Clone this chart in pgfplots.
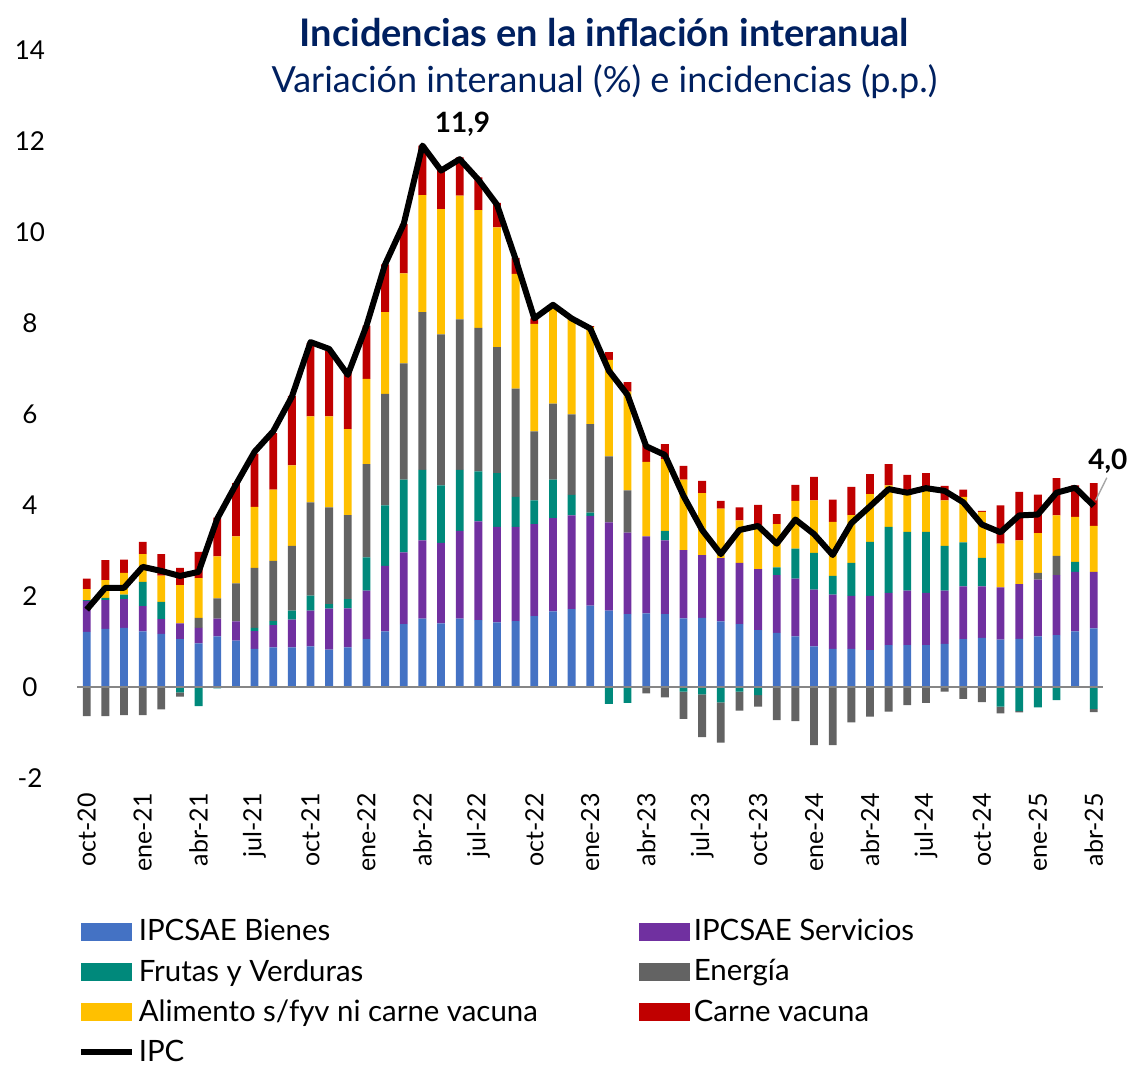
\documentclass[border=0pt]{standalone}
\usepackage{fontspec}
\setmainfont{Lato}
\usepackage{pgfplots}
\usepackage{pgfplotstable}
\pgfplotsset{compat=1.18}

\definecolor{cBien}{RGB}{68,114,196}
\definecolor{cServ}{RGB}{112,48,160}
\definecolor{cFyV}{RGB}{0,137,123}
\definecolor{cEne}{RGB}{99,99,99}
\definecolor{cAli}{RGB}{255,192,0}
\definecolor{cCar}{RGB}{192,0,0}
\definecolor{cTit}{RGB}{0,32,96}
\definecolor{cZero}{RGB}{134,134,134}

\pgfplotstableread{
i bien serv fyv ene ali car fyvn enen ipc
0 1.21 0.68 0.02 0 0.24 0.23 0 -0.64 1.70
1 1.28 0.63 0.05 0 0.39 0.44 0 -0.64 2.18
2 1.30 0.63 0.10 0 0.48 0.29 0 -0.62 2.18
3 1.22 0.56 0.53 0 0.61 0.27 0 -0.62 2.64
4 1.17 0.32 0.38 0 0.58 0.47 0 -0.49 2.55
5 1.05 0.35 0 0 0.84 0.38 -0.12 -0.09 2.44
6 0.96 0.34 0 0.22 0.87 0.58 -0.42 0 2.53
7 1.11 0.39 0 0.45 0.92 0.85 -0.03 0 3.70
8 1.02 0.42 0 0.84 1.03 1.17 0 0 4.45
9 0.84 0.39 0.07 1.32 1.34 1.17 0 0 5.17
10 0.87 0.49 0.09 1.32 1.57 1.24 0 0 5.62
11 0.87 0.61 0.20 1.42 1.77 1.53 0 0 6.38
12 0.89 0.79 0.33 2.05 1.89 1.61 0 0 7.58
13 0.82 0.90 0.10 2.13 2.00 1.43 0 0 7.43
14 0.87 0.86 0.20 1.85 1.89 1.24 0 0 6.86
15 1.05 1.07 0.73 2.05 1.87 1.17 0 0 7.94
16 1.22 1.44 1.33 2.45 1.80 1.05 0 0 9.29
17 1.38 1.58 1.60 2.55 1.98 1.09 0 0 10.18
18 1.50 1.72 1.55 3.47 2.57 1.09 0 0 11.90
19 1.40 1.77 1.26 3.32 2.75 0.92 0 0 11.35
20 1.50 1.93 1.34 3.31 2.72 0.84 0 0 11.60
21 1.47 2.17 1.10 3.15 2.59 0.72 0 0 11.15
22 1.42 2.10 1.18 2.77 2.63 0.54 0 0 10.60
23 1.45 2.07 0.66 2.38 2.52 0.35 0 0 9.40
24 1.56 2.02 0.52 1.52 2.36 0.12 0 0 8.10
25 1.66 2.05 0.85 1.67 2.15 0 0 0 8.40
26 1.71 2.06 0.45 1.77 2.11 0 0 0 8.10
27 1.79 1.97 0.07 1.95 2.13 0.02 0 0 7.88
28 1.68 1.94 0 1.45 2.12 0.17 -0.37 0 6.95
29 1.60 1.79 0 0.93 2.17 0.21 -0.35 0 6.42
30 1.62 1.69 0 0 1.64 0.37 0 -0.14 5.29
31 1.60 1.62 0.21 0 1.58 0.33 0 -0.23 5.10
32 1.51 1.50 0 0 1.55 0.30 -0.10 -0.60 4.20
33 1.52 1.38 0 0 1.36 0.27 -0.16 -0.94 3.45
34 1.44 1.39 0 0 1.09 0.17 -0.34 -0.88 2.92
35 1.38 1.35 0 0 0.93 0.29 -0.10 -0.42 3.45
36 1.25 1.34 0 0 0.97 0.44 -0.18 -0.25 3.54
37 1.19 1.27 0.17 0 0.95 0.22 0 -0.73 3.15
38 1.11 1.27 0.66 0 1.05 0.35 0 -0.75 3.68
39 0.89 1.25 0.81 0 1.15 0.52 0 -1.28 3.36
40 0.84 1.19 0.41 0 1.19 0.49 0 -1.28 2.90
41 0.84 1.16 0.73 0 1.05 0.62 0 -0.78 3.60
42 0.81 1.19 1.19 0 1.05 0.44 0 -0.65 3.97
43 0.92 1.15 1.45 0 0.91 0.47 0 -0.54 4.35
44 0.92 1.20 1.29 0 0.82 0.43 0 -0.40 4.27
45 0.92 1.15 1.34 0 0.93 0.36 0 -0.35 4.37
46 0.95 1.17 0.98 0 1.00 0.32 0 -0.10 4.31
47 1.05 1.16 0.97 0 1.00 0.16 0 -0.26 4.06
48 1.08 1.13 0.63 0 1.01 0.02 0 -0.33 3.57
49 1.04 1.15 0 0 0.96 0.84 -0.43 -0.15 3.40
50 1.06 1.20 0 0 0.96 1.07 -0.53 -0.03 3.77
51 1.11 1.25 0 0.15 0.87 0.85 -0.45 0 3.79
52 1.14 1.32 0 0.42 0.89 0.82 -0.29 0 4.27
53 1.22 1.31 0.22 0 0.99 0.69 0 0 4.38
54 1.29 1.24 0 0 1.01 0.94 -0.48 -0.07 3.98
}\datos

\pgfplotsset{
  base/.style={
    scale only axis, width=512.85pt, height=364pt,
    at={(0pt,0pt)}, anchor=south west,
    xmin=-0.5, xmax=54.5, ymin=-2, ymax=14,
    clip=false,
  },
  barleg/.style={legend image code/.code={\fill[##1,draw=none] (0pt,-4.5pt) rectangle (25.5pt,4.5pt);}},
  ipcleg/.style={legend image code/.code={\draw[##1] (0pt,0pt) -- (25.5pt,0pt);}},
}

\begin{document}
\begin{tikzpicture}
% negative contributions
\begin{axis}[base, hide axis, ybar stacked, bar width=0.42]
\addplot[fill=cFyV, draw=none] table[x=i, y=fyvn]{\datos};
\addplot[fill=cEne, draw=none] table[x=i, y=enen]{\datos};
\end{axis}
% positive contributions, ticks and legend
\begin{axis}[base, ybar stacked, bar width=0.42,
  axis line style={draw=none}, major tick length=0pt,
  ytick={-2,0,2,4,6,8,10,12,14},
  yticklabels={-2,0,2,4,6,8,10,12,14},
  yticklabel style={anchor=center, xshift=-23.7pt, font=\fontsize{13}{15}\selectfont},
  xtick={0,3,...,54},
  xticklabels={oct-20,ene-21,abr-21,jul-21,oct-21,ene-22,abr-22,jul-22,oct-22,ene-23,abr-23,jul-23,oct-23,ene-24,abr-24,jul-24,oct-24,ene-25,abr-25},
  xticklabel style={rotate=90, anchor=east, font=\fontsize{12.5}{15}\selectfont},
  xticklabel shift=4pt,
  legend columns=2,
  legend cell align=left,
  legend style={draw=none, fill=none, at={(axis description cs:0,0)}, anchor=north west,
    yshift=-68.5pt, inner sep=0pt, font=\fontsize{14.7}{17.5}\selectfont, row sep=3.8pt},
]
\addplot[fill=cBien, draw=none, barleg] table[x=i, y=bien]{\datos};
\addlegendentry{\makebox[248pt][l]{IPCSAE Bienes}}
\addplot[fill=cServ, draw=none, barleg] table[x=i, y=serv]{\datos};
\addlegendentry{IPCSAE Servicios}
\addplot[fill=cFyV, draw=none, barleg] table[x=i, y=fyv]{\datos};
\addlegendentry{\makebox[248pt][l]{Frutas y Verduras}}
\addplot[fill=cEne, draw=none, barleg] table[x=i, y=ene]{\datos};
\addlegendentry{Energía}
\addplot[fill=cAli, draw=none, barleg] table[x=i, y=ali]{\datos};
\addlegendentry{\makebox[248pt][l]{Alimento s/fyv ni carne vacuna}}
\addplot[fill=cCar, draw=none, barleg] table[x=i, y=car]{\datos};
\addlegendentry{Carne vacuna}
\addlegendimage{ipcleg, black, line width=3pt}
\addlegendentry{\makebox[248pt][l]{IPC}}
\end{axis}
% zero line, IPC line and labels
\begin{axis}[base, hide axis]
\addplot[cZero, line width=1pt, mark=none] coordinates {(-0.5,0) (54.5,0)};
\addplot[black, line width=3pt, line join=round, mark=none] table[x=i, y=ipc]{\datos};
\node[anchor=base, font=\bfseries\fontsize{14}{16}\selectfont] at (axis cs:20.15,12.18) {11,9};
\draw[gray!70, line width=0.7pt] (axis cs:54.1,4.1) -- (axis cs:54.7,4.6);
\node[anchor=base, font=\bfseries\fontsize{14}{16}\selectfont] at (axis cs:54.76,4.77) {4,0};
\end{axis}
\node[anchor=base, text=cTit, font=\bfseries\fontsize{19}{22}\selectfont] at (263.5pt,365.5pt) {Incidencias en la inflación interanual};
\node[anchor=base, text=cTit, font=\fontsize{18}{21}\selectfont] at (263.5pt,342.5pt) {Variación interanual (\%) e incidencias (p.p.)};
\pgfresetboundingbox
\path (-38.7pt,-148pt) rectangle (531.3pt,389pt);
\end{tikzpicture}
\end{document}
